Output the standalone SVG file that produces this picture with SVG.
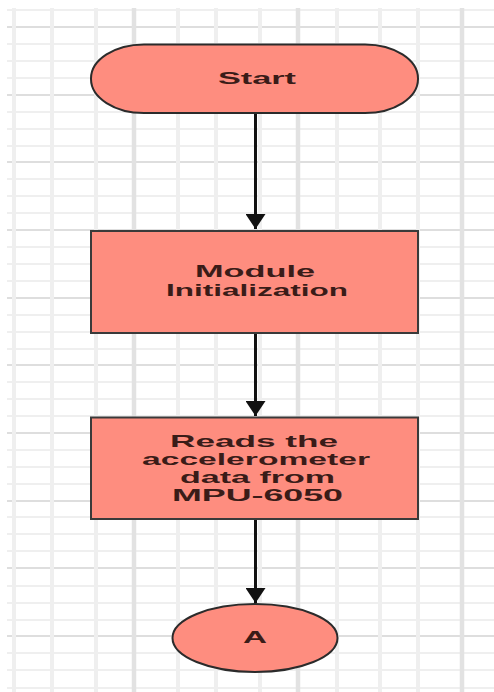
<svg xmlns="http://www.w3.org/2000/svg" width="494" height="692" viewBox="0 0 494 692">
  <style>
    .grid-v { stroke: #efefef; stroke-width: 4; }
    .grid-v.major { stroke: #e2e2e2; stroke-width: 4.5; }
    .grid-h { stroke: #efefef; stroke-width: 2; }
    .grid-h.major { stroke: #dedede; stroke-width: 2; }
    .shape { fill: #fe8d7f; stroke: #2b2b2b; stroke-width: 2; }
    .box { fill: #fe8d7f; stroke: #3a3a3a; stroke-width: 2; }
    .label { font-family: "Liberation Sans", Arial, sans-serif; font-size: 17px; font-weight: bold; fill: #3a1c18; text-anchor: middle; }
    .flow { stroke: #111; stroke-width: 3; fill: none; marker-end: url(#arrow); }
  </style>
  <defs>
    <!-- solid triangular head, pointing along the line direction -->
    <marker id="arrow" viewBox="0 0 15 20" refX="15" refY="10" markerWidth="15" markerHeight="20" markerUnits="userSpaceOnUse" orient="auto">
      <path d="M0,0 L15,10 L0,20 Z" fill="#111"/>
    </marker>
  </defs>

  <rect width="494" height="692" fill="#ffffff"/>

  <!-- background grid -->
  <g id="grid">
    <g class="grid-h">
      <line x1="7" y1="10" x2="494" y2="10"/>
      <line x1="7" y1="44" x2="494" y2="44"/>
      <line x1="7" y1="61" x2="494" y2="61"/>
      <line x1="7" y1="78" x2="494" y2="78"/>
      <line x1="7" y1="112" x2="494" y2="112"/>
      <line x1="7" y1="129" x2="494" y2="129"/>
      <line x1="7" y1="146" x2="494" y2="146"/>
      <line x1="7" y1="179" x2="494" y2="179"/>
      <line x1="7" y1="196" x2="494" y2="196"/>
      <line x1="7" y1="213" x2="494" y2="213"/>
      <line x1="7" y1="247" x2="494" y2="247"/>
      <line x1="7" y1="264" x2="494" y2="264"/>
      <line x1="7" y1="281" x2="494" y2="281"/>
      <line x1="7" y1="315" x2="494" y2="315"/>
      <line x1="7" y1="332" x2="494" y2="332"/>
      <line x1="7" y1="349" x2="494" y2="349"/>
      <line x1="7" y1="382" x2="494" y2="382"/>
      <line x1="7" y1="399" x2="494" y2="399"/>
      <line x1="7" y1="416" x2="494" y2="416"/>
      <line x1="7" y1="450" x2="494" y2="450"/>
      <line x1="7" y1="467" x2="494" y2="467"/>
      <line x1="7" y1="484" x2="494" y2="484"/>
      <line x1="7" y1="517" x2="494" y2="517"/>
      <line x1="7" y1="534" x2="494" y2="534"/>
      <line x1="7" y1="551" x2="494" y2="551"/>
      <line x1="7" y1="586" x2="494" y2="586"/>
      <line x1="7" y1="603" x2="494" y2="603"/>
      <line x1="7" y1="620" x2="494" y2="620"/>
      <line x1="7" y1="653" x2="494" y2="653"/>
      <line x1="7" y1="670" x2="494" y2="670"/>
      <line x1="7" y1="688" x2="494" y2="688"/>
    </g>
    <g class="grid-h major">
      <line x1="7" y1="27" x2="494" y2="27"/>
      <line x1="7" y1="95" x2="494" y2="95"/>
      <line x1="7" y1="162" x2="494" y2="162"/>
      <line x1="7" y1="230" x2="494" y2="230"/>
      <line x1="7" y1="298" x2="494" y2="298"/>
      <line x1="7" y1="365" x2="494" y2="365"/>
      <line x1="7" y1="433" x2="494" y2="433"/>
      <line x1="7" y1="501" x2="494" y2="501"/>
      <line x1="7" y1="568" x2="494" y2="568"/>
      <line x1="7" y1="636" x2="494" y2="636"/>
    </g>
    <g class="grid-v">
      <line x1="14" y1="8" x2="14" y2="692"/>
      <line x1="52" y1="8" x2="52" y2="692"/>
      <line x1="96" y1="8" x2="96" y2="692"/>
      <line x1="178" y1="8" x2="178" y2="692"/>
      <line x1="216" y1="8" x2="216" y2="692"/>
      <line x1="260" y1="8" x2="260" y2="692"/>
      <line x1="337" y1="8" x2="337" y2="692"/>
      <line x1="380" y1="8" x2="380" y2="692"/>
      <line x1="418" y1="8" x2="418" y2="692"/>
    </g>
    <g class="grid-v major">
      <line x1="134" y1="8" x2="134" y2="692"/>
      <line x1="298" y1="8" x2="298" y2="692"/>
      <line x1="462" y1="8" x2="462" y2="692"/>
    </g>
  </g>

  <!-- connectors -->
  <g id="connectors">
    <line class="flow" x1="255.5" y1="113" x2="255.5" y2="229"/>
    <line class="flow" x1="255.5" y1="333" x2="255.5" y2="416"/>
    <line class="flow" x1="255.5" y1="519" x2="255.5" y2="603"/>
  </g>

  <!-- terminal: Start -->
  <g id="start">
    <rect class="shape" x="91" y="44.5" width="327" height="68.5" rx="53" ry="34"/>
    <text class="label" x="257" y="83.5" textLength="78" lengthAdjust="spacingAndGlyphs">Start</text>
  </g>

  <!-- process: module initialization -->
  <g id="init">
    <rect class="box" x="91" y="231" width="327" height="102"/>
    <text class="label" x="255" y="277" textLength="120" lengthAdjust="spacingAndGlyphs">Module</text>
    <text class="label" x="257" y="295.5" textLength="182" lengthAdjust="spacingAndGlyphs">Initialization</text>
  </g>

  <!-- process: read accelerometer -->
  <g id="read">
    <rect class="box" x="91" y="417.5" width="327" height="101.5"/>
    <text class="label" x="254" y="447" textLength="168" lengthAdjust="spacingAndGlyphs">Reads the</text>
    <text class="label" x="256" y="464.5" textLength="228" lengthAdjust="spacingAndGlyphs">accelerometer</text>
    <text class="label" x="257.5" y="482.5" textLength="155" lengthAdjust="spacingAndGlyphs">data from</text>
    <text class="label" x="257.5" y="500.5" textLength="171" lengthAdjust="spacingAndGlyphs">MPU-6050</text>
  </g>

  <!-- off-page connector A -->
  <g id="connector-a">
    <ellipse class="shape" cx="255" cy="638" rx="82.5" ry="34"/>
    <text class="label" x="255" y="642.5" textLength="24" lengthAdjust="spacingAndGlyphs">A</text>
  </g>
</svg>
